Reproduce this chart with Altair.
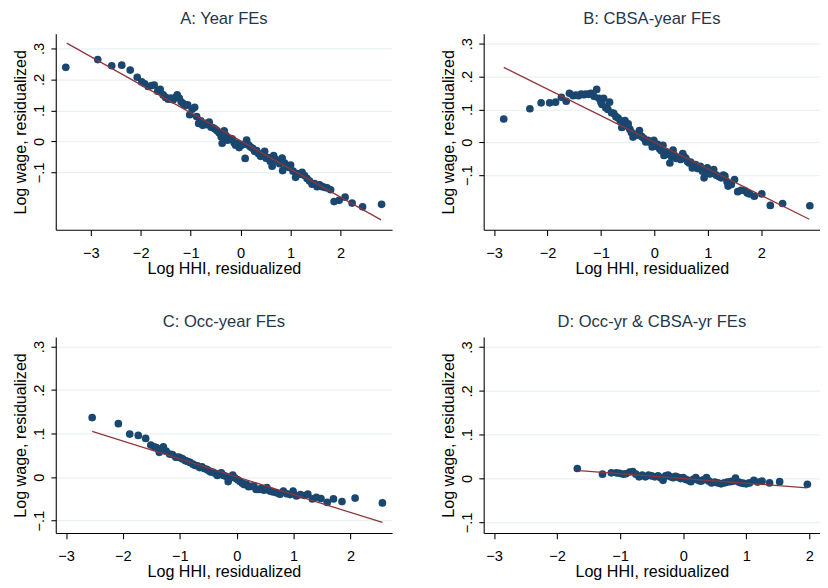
import altair as alt
import pandas as pd

# ---------------- data ----------------
a_x = [-3.50, -2.86, -2.58, -2.38, -2.21, -2.07, -1.98, -1.92, -1.85, -1.78, -1.73, -1.66, -1.61, -1.55,
       -1.50, -1.45, -1.40, -1.35, -1.30, -1.27, -1.23, -1.19, -1.15, -1.10, -1.06, -1.02, -0.97, -0.92,
       -0.88, -0.84, -0.80, -0.76, -0.71, -0.67, -0.63, -0.59, -0.55, -0.51, -0.47, -0.43, -0.39, -0.37,
       -0.33, -0.30, -0.26, -0.22, -0.17, -0.13, -0.10, -0.06, -0.03, 0.01, 0.05, 0.09, 0.12, 0.16, 0.20,
       0.24, 0.28, 0.32, 0.36, 0.40, 0.44, 0.48, 0.51, 0.55, 0.59, 0.63, 0.66, 0.70, 0.74, 0.78, 0.83,
       0.84, 0.88, 0.92, 0.97, 1.00, 1.05, 1.10, 1.14, 1.19, 1.23, 1.28, 1.33, 1.38, 1.43, 1.48, 1.53,
       1.58, 1.63, 1.68, 1.73, 1.80, 1.87, 1.97, 2.09, 2.23, 2.44, 2.82]
a_y = [0.239, 0.264, 0.244, 0.246, 0.230, 0.207, 0.192, 0.186, 0.177, 0.180, 0.182, 0.162, 0.168, 0.150,
       0.142, 0.136, 0.140, 0.134, 0.142, 0.150, 0.140, 0.128, 0.122, 0.116, 0.118, 0.086, 0.104, 0.110,
       0.080, 0.058, 0.066, 0.052, 0.058, 0.054, 0.062, 0.046, 0.044, 0.040, 0.034, 0.028, 0.015, -0.006,
       0.034, 0.020, 0.004, 0.010, 0.008, -0.004, -0.012, -0.006, -0.020, -0.012, -0.010, -0.055, 0.004,
       -0.012, -0.018, -0.022, -0.032, -0.030, -0.040, -0.048, -0.040, -0.032, -0.054, -0.052, -0.064,
       -0.080, -0.046, -0.058, -0.064, -0.072, -0.054, -0.094, -0.070, -0.078, -0.084, -0.076, -0.096,
       -0.116, -0.104, -0.106, -0.100, -0.110, -0.120, -0.128, -0.138, -0.136, -0.146, -0.140, -0.146,
       -0.148, -0.150, -0.156, -0.194, -0.190, -0.180, -0.199, -0.211, -0.203]
a_fit_x = [-3.48, 2.81]
a_fit_y = [0.317, -0.253]

b_x = [-2.82, -2.33, -2.12, -1.96, -1.85, -1.74, -1.65, -1.59, -1.52, -1.47, -1.42, -1.37, -1.32, -1.28,
       -1.23, -1.19, -1.13, -1.08, -1.04, -1.00, -0.98, -0.95, -0.91, -0.87, -0.84, -0.80, -0.76, -0.72,
       -0.68, -0.64, -0.61, -0.58, -0.55, -0.52, -0.49, -0.46, -0.43, -0.40, -0.36, -0.32, -0.28, -0.24,
       -0.20, -0.16, -0.12, -0.08, -0.04, -0.01, 0.02, 0.06, 0.10, 0.13, 0.16, 0.18, 0.22, 0.26, 0.29,
       0.32, 0.35, 0.38, 0.41, 0.45, 0.49, 0.53, 0.56, 0.59, 0.62, 0.65, 0.68, 0.71, 0.74, 0.77, 0.81,
       0.86, 0.90, 0.93, 0.96, 0.99, 1.04, 1.08, 1.11, 1.16, 1.21, 1.25, 1.29, 1.32, 1.36, 1.38, 1.44,
       1.50, 1.56, 1.62, 1.69, 1.74, 1.78, 1.87, 2.01, 2.17, 2.40, 2.91]
b_y = [0.071, 0.102, 0.120, 0.120, 0.122, 0.137, 0.125, 0.149, 0.142, 0.144, 0.142, 0.147, 0.145, 0.147,
       0.146, 0.149, 0.140, 0.161, 0.134, 0.122, 0.115, 0.134, 0.105, 0.100, 0.122, 0.090, 0.088, 0.078,
       0.074, 0.066, 0.045, 0.060, 0.066, 0.050, 0.056, 0.040, 0.030, 0.016, 0.024, 0.022, 0.036, 0.018,
       0.012, 0.001, 0.006, 0.000, -0.014, 0.006, -0.012, -0.006, -0.020, -0.026, -0.009, -0.040, -0.030,
       -0.036, -0.063, -0.044, -0.024, -0.040, -0.049, -0.048, -0.052, -0.034, -0.044, -0.049, -0.058,
       -0.063, -0.060, -0.078, -0.070, -0.068, -0.080, -0.073, -0.088, -0.108, -0.090, -0.078, -0.096,
       -0.094, -0.083, -0.100, -0.104, -0.108, -0.100, -0.103, -0.120, -0.133, -0.128, -0.113, -0.150,
       -0.146, -0.147, -0.154, -0.157, -0.164, -0.157, -0.192, -0.186, -0.193]
b_fit_x = [-2.82, 2.90]
b_fit_y = [0.228, -0.234]

c_x = [-2.54, -2.08, -1.88, -1.73, -1.60, -1.51, -1.45, -1.41, -1.36, -1.29, -1.24, -1.18, -1.13, -1.07,
       -1.02, -0.98, -0.95, -0.90, -0.86, -0.82, -0.77, -0.73, -0.69, -0.65, -0.61, -0.57, -0.53, -0.50,
       -0.46, -0.42, -0.38, -0.34, -0.30, -0.27, -0.23, -0.19, -0.15, -0.11, -0.07, -0.03, 0.02, 0.06,
       0.10, 0.13, 0.17, 0.21, 0.25, 0.30, 0.34, 0.39, 0.43, 0.48, 0.53, 0.59, 0.64, 0.70, 0.76, 0.82,
       0.88, 0.94, 0.99, 1.05, 1.12, 1.19, 1.25, 1.33, 1.40, 1.48, 1.59, 1.70, 1.85, 2.08, 2.56]
c_y = [0.137, 0.123, 0.099, 0.096, 0.089, 0.074, 0.070, 0.068, 0.057, 0.070, 0.060, 0.053, 0.052, 0.046,
       0.046, 0.044, 0.042, 0.038, 0.036, 0.034, 0.030, 0.027, 0.026, 0.022, 0.024, 0.020, 0.018, 0.016,
       0.012, 0.012, 0.009, 0.004, 0.008, 0.010, 0.004, 0.002, -0.010, 0.000, 0.005, -0.002, -0.006,
       -0.010, -0.014, -0.017, -0.016, -0.022, -0.021, -0.020, -0.028, -0.028, -0.026, -0.030, -0.024,
       -0.032, -0.034, -0.036, -0.039, -0.032, -0.038, -0.040, -0.032, -0.043, -0.040, -0.042, -0.039,
       -0.050, -0.046, -0.049, -0.058, -0.050, -0.056, -0.048, -0.059]
c_fit_x = [-2.54, 2.56]
c_fit_y = [0.105, -0.104]

d_x = [-1.68, -1.28, -1.14, -1.06, -1.01, -0.95, -0.91, -0.85, -0.80, -0.75, -0.70, -0.65, -0.60, -0.55,
       -0.50, -0.45, -0.40, -0.36, -0.32, -0.28, -0.24, -0.20, -0.16, -0.12, -0.08, -0.04, 0.00, 0.04,
       0.08, 0.12, 0.16, 0.20, 0.24, 0.28, 0.32, 0.37, 0.41, 0.45, 0.50, 0.55, 0.60, 0.65, 0.70, 0.75,
       0.79, 0.83, 0.88, 0.92, 0.96, 1.00, 1.05, 1.12, 1.18, 1.25, 1.37, 1.53, 1.97]
d_y = [0.023, 0.010, 0.013, 0.013, 0.012, 0.010, 0.011, 0.015, 0.016, 0.010, 0.004, 0.008, 0.004, 0.008,
       0.006, 0.004, 0.006, 0.002, -0.004, 0.006, 0.008, 0.004, 0.002, 0.005, 0.003, 0.000, 0.002, -0.002,
       -0.004, -0.007, -0.002, 0.002, -0.004, -0.006, -0.003, 0.002, -0.006, -0.010, -0.008, -0.010,
       -0.012, -0.010, -0.008, -0.007, -0.006, 0.001, -0.008, -0.010, -0.011, -0.012, -0.010, -0.004,
       -0.008, -0.006, -0.010, -0.007, -0.013]
d_fit_x = [-1.65, 1.97]
d_fit_y = [0.018, -0.021]

titles = ["A: Year FEs", "B: CBSA-year FEs", "C: Occ-year FEs", "D: Occ-yr & CBSA-yr FEs"]
x_ticks = [-3, -2, -1, 0, 1, 2]
y_ticks = [-0.1, 0, 0.1, 0.2, 0.3]
x_title = "Log HHI, residualized"
y_title = "Log wage, residualized"

# ---------------- styling ----------------
FONT = "Liberation Sans"
NAVY = "#1a476f"
MAROON = "#90353b"
W, H = 345, 201


def panel(title, xs, ys, fx, fy, xdom, ydom):
    pts = pd.DataFrame({"x": xs, "y": ys})
    fit = pd.DataFrame({"x": fx, "y": fy})
    xscale = alt.Scale(domain=xdom, nice=False, zero=False)
    yscale = alt.Scale(domain=ydom, nice=False, zero=False)
    xaxis = alt.Axis(title=x_title, values=x_ticks, grid=False, format="d",
                     tickSize=6, labelPadding=10, titlePadding=1,
                     labelFontSize=15, titleFontSize=16.5, labelFlush=False, labelOverlap=False)
    yaxis = alt.Axis(title=y_title, values=y_ticks, grid=True,
                     labelExpr="datum.value == 0 ? '0' : replace(format(datum.value, '.1f'), '0.', '.')",
                     labelAngle=270, labelAlign="center", labelBaseline="bottom",
                     tickSize=5, labelPadding=5, titlePadding=3,
                     labelFontSize=15, titleFontSize=16.5, labelOverlap=False, labelFlush=False)
    dots = alt.Chart(pts).mark_circle(color=NAVY, size=62, opacity=1).encode(
        x=alt.X("x:Q", scale=xscale, axis=xaxis),
        y=alt.Y("y:Q", scale=yscale, axis=yaxis),
    )
    line = alt.Chart(fit).mark_line(color=MAROON, strokeWidth=1.3).encode(
        x=alt.X("x:Q", scale=xscale, axis=xaxis),
        y=alt.Y("y:Q", scale=yscale, axis=yaxis),
    )
    return alt.layer(dots, line).properties(
        width=W, height=H,
        title=alt.TitleParams(title, font=FONT, fontSize=17, fontWeight="normal",
                              color="#24364d", anchor="middle", offset=-7, baseline="alphabetic"),
    )


pa = panel(titles[0], a_x, a_y, a_fit_x, a_fit_y, [-3.70, 3.03], [-0.285, 0.347])
pb = panel(titles[1], b_x, b_y, b_fit_x, b_fit_y, [-3.195, 3.10], [-0.266, 0.330])
pc = panel(titles[2], c_x, c_y, c_fit_x, c_fit_y, [-3.18, 2.73], [-0.128, 0.322])
pd_ = panel(titles[3], d_x, d_y, d_fit_x, d_fit_y, [-3.165, 2.17], [-0.124, 0.323])

chart = alt.vconcat(
    alt.hconcat(pa, pb, spacing=50),
    alt.hconcat(pc, pd_, spacing=50),
    spacing=37,
).properties(
    padding={"left": 5, "top": -5, "right": 0, "bottom": 0},
    background="white",
).configure_view(stroke=None).configure_axis(
    domainColor="#000000", domainWidth=1.1, tickColor="#000000", tickWidth=1.1,
    labelColor="#000000", titleColor="#000000", labelFont=FONT, titleFont=FONT,
    titleFontWeight="normal", gridColor="#eaf2f3", gridWidth=1.3,
)

chart.save("out.html", embed_options={"renderer": "svg", "actions": False})
